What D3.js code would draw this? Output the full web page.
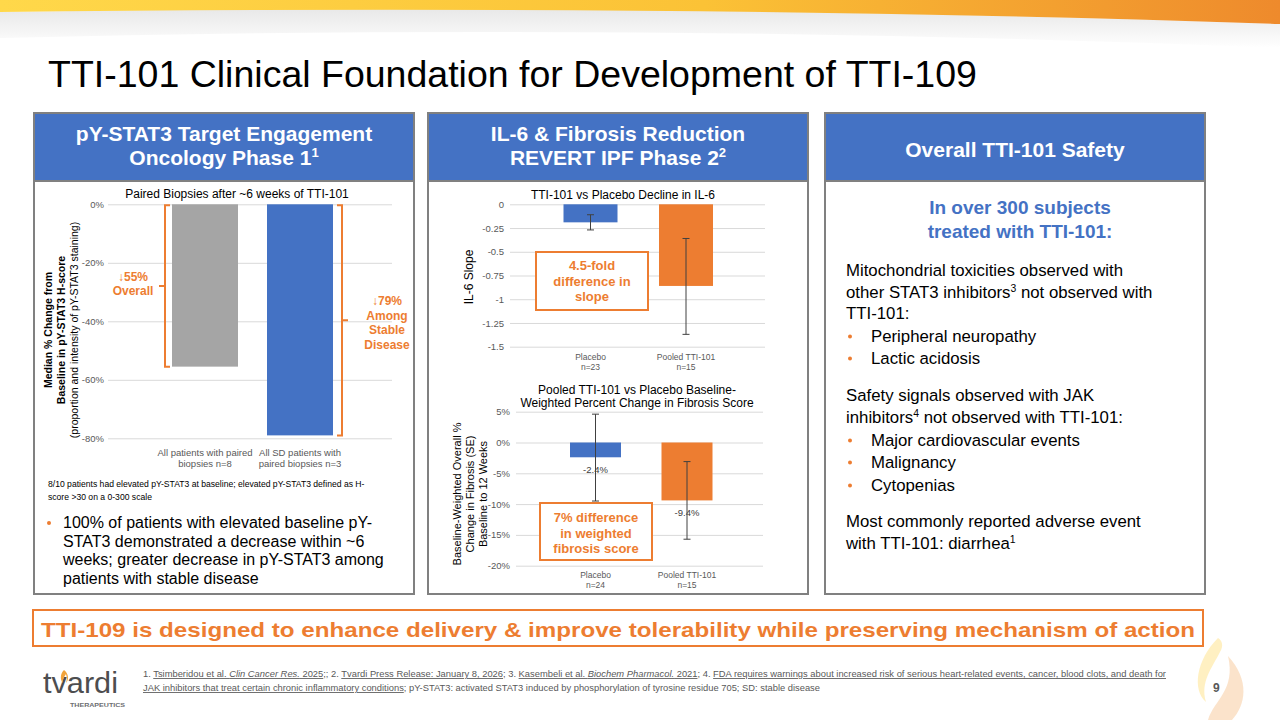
<!DOCTYPE html>
<html>
<head>
<meta charset="utf-8">
<script src="https://cdn.jsdelivr.net/npm/d3@7"></script>
<style>
  body { margin: 0; background: #fff; }
  svg { display: block; font-family: "Liberation Sans", Arial, sans-serif; }
  .tick text { fill: #595959; }
</style>
</head>
<body>
<div id="slide"></div>
<script>
// ---------- data ----------
const biopsyCats = ["All patients with paired|biopsies n=8", "All SD patients with|paired biopsies n=3"];
const biopsyChange = [-55.5, -79];
const biopsyTicks = [0, -20, -40, -60, -80];

const il6Cats = ["Placebo|n=23", "Pooled TTI-101|n=15"];
const il6Slope = [-0.19, -0.86];
const il6ErrLow = [-0.27, -1.37];
const il6ErrHigh = [-0.11, -0.36];
const il6Ticks = [0, -0.25, -0.5, -0.75, -1, -1.25, -1.5];

const fibCats = ["Placebo|n=24", "Pooled TTI-101|n=15"];
const fibChange = [-2.4, -9.4];
const fibErrLow = [-9.5, -15.7];
const fibErrHigh = [4.6, -3.1];
const fibTicks = [5, 0, -5, -10, -15, -20];

const headers = [
  ["pY-STAT3 Target Engagement", "Oncology Phase 1^1"],
  ["IL-6 & Fibrosis Reduction", "REVERT IPF Phase 2^2"],
  ["Overall TTI-101 Safety"]
];

const BLUE = "#4472C4", ORANGE = "#ED7D31", GREY_BAR = "#A5A5A5", GRID = "#D9D9D9";

const svg = d3.select("#slide").append("svg")
    .attr("width", 1280)
    .attr("height", 720);

const defs = svg.append("defs");
const grad = defs.append("linearGradient").attr("id", "swoosh");
grad.append("stop").attr("offset", "0%").attr("stop-color", "#FFD84A");
grad.append("stop").attr("offset", "55%").attr("stop-color", "#FBC236");
grad.append("stop").attr("offset", "100%").attr("stop-color", "#EE8A2C");
const shade = defs.append("linearGradient").attr("id", "shade")
    .attr("x1", 0).attr("y1", 0).attr("x2", 0).attr("y2", 1);
shade.append("stop").attr("offset", "0%").attr("stop-color", "#E8E8E8");
shade.append("stop").attr("offset", "100%").attr("stop-color", "#FFFFFF");

// top swoosh
svg.append("path")
    .attr("d", "M0,12 Q640,2 1280,24 V48 Q640,22 0,38 Z")
    .attr("fill", "url(#shade)");
svg.append("path")
    .attr("d", "M0,0 H1280 V24 Q700,4 0,12 Z")
    .attr("fill", "url(#swoosh)");

// title
svg.append("text")
    .attr("x", 48).attr("y", 87)
    .attr("font-size", 37.5)
    .attr("fill", "#000")
    .text("TTI-101 Clinical Foundation for Development of TTI-109");

// text helper: "^n" means superscript n
function richText(sel, str, fs) {
  const parts = str.split(/(\^\d)/).filter(p => p.length);
  const shift = fs * 0.38;
  let raised = false;
  parts.forEach(p => {
    if (p.startsWith("^")) {
      sel.append("tspan").attr("dy", -shift).attr("font-size", fs * 0.62).text(p.slice(1));
      raised = true;
    } else {
      const sp = sel.append("tspan").text(p);
      if (raised) { sp.attr("dy", shift); raised = false; }
    }
  });
}

// ---------- panels ----------
const panelX = [34, 428, 825], panelW = 380, panelTop = 113, panelBottom = 594, headerH = 68;

panelX.forEach((px, i) => {
  svg.append("rect")
      .attr("x", px).attr("y", panelTop)
      .attr("width", panelW).attr("height", panelBottom - panelTop)
      .attr("fill", "#fff")
      .attr("stroke", "#808080")
      .attr("stroke-width", 2);
  svg.append("rect")
      .attr("x", px).attr("y", panelTop)
      .attr("width", panelW).attr("height", headerH)
      .attr("fill", BLUE)
      .attr("stroke", "#808080")
      .attr("stroke-width", 2);
  const lines = headers[i];
  const ys = lines.length === 2 ? [141, 165] : [157];
  lines.forEach((ln, j) => {
    const t = svg.append("text")
        .attr("x", px + panelW / 2).attr("y", ys[j])
        .attr("text-anchor", "middle")
        .attr("font-size", 21)
        .attr("font-weight", "bold")
        .attr("fill", "#fff");
    richText(t, ln, 21);
  });
});

function multiLine(g, x, y, lines, lh, attrs) {
  const t = g.append("text").attr("x", x).attr("y", y);
  Object.entries(attrs).forEach(([k, v]) => t.attr(k, v));
  lines.forEach((ln, i) => {
    t.append("tspan").attr("x", x).attr("dy", i === 0 ? 0 : lh).text(ln);
  });
  return t;
}

function catLabels(g, x, cats, y0, size) {
  cats.forEach(c => {
    multiLine(g, x(c) + x.bandwidth() / 2, y0, c.split("|"), size + 1,
      {"text-anchor": "middle", "font-size": size, "fill": "#595959"});
  });
}

function bandFor(cats, c1, c2, bw) {
  const step = c2 - c1;
  const p = 1 - bw / step;
  return d3.scaleBand().domain(cats)
      .range([c1 - step / 2, c2 + step / 2])
      .paddingInner(p).paddingOuter(p / 2);
}

function gridAxis(g, y, ticks, left, right, pad, fmt, size) {
  const ax = g.append("g")
      .attr("transform", "translate(" + left + ",0)")
      .call(d3.axisLeft(y).tickValues(ticks).tickSize(-(right - left)).tickPadding(pad).tickFormat(fmt));
  ax.select(".domain").remove();
  ax.selectAll(".tick line").attr("stroke", GRID);
  ax.selectAll(".tick text").attr("font-size", size).attr("font-family", "Liberation Sans, Arial, sans-serif");
  return ax;
}

function errorBars(g, x, y, cats, lo, hi) {
  cats.forEach((c, i) => {
    const cx = x(c) + x.bandwidth() / 2;
    g.append("line").attr("x1", cx).attr("x2", cx)
        .attr("y1", y(hi[i])).attr("y2", y(lo[i]))
        .attr("stroke", "#404040").attr("stroke-width", 1);
    [lo[i], hi[i]].forEach(v => {
      g.append("line").attr("x1", cx - 3.5).attr("x2", cx + 3.5)
          .attr("y1", y(v)).attr("y2", y(v))
          .attr("stroke", "#404040").attr("stroke-width", 1);
    });
  });
}

// ---------- left chart: biopsies ----------
const gL = svg.append("g");
gL.append("text")
    .attr("x", 237).attr("y", 198)
    .attr("text-anchor", "middle").attr("font-size", 12).attr("fill", "#000")
    .text("Paired Biopsies after ~6 weeks of TTI-101");

const yL = d3.scaleLinear().domain([0, -80]).range([204.3, 438.3]);
const xL = bandFor(biopsyCats, 205, 300, 66);
gridAxis(gL, yL, biopsyTicks, 108, 392, 4, d => d + "%", 9.5);

gL.selectAll(".bar")
  .data(biopsyCats)
  .enter().append("rect")
    .attr("x", d => xL(d))
    .attr("width", xL.bandwidth())
    .attr("y", yL(0))
    .attr("height", (d, i) => yL(biopsyChange[i]) - yL(0))
    .attr("fill", (d, i) => i === 0 ? GREY_BAR : BLUE);

catLabels(gL, xL, biopsyCats, 456, 9.5);

// y-axis title
const yTitleL = gL.append("text")
    .attr("transform", "translate(0,330) rotate(-90)")
    .attr("text-anchor", "middle").attr("font-size", 10.5).attr("fill", "#000");
yTitleL.append("tspan").attr("x", 0).attr("y", 52).attr("font-weight", "bold").text("Median % Change from");
yTitleL.append("tspan").attr("x", 0).attr("y", 65).attr("font-weight", "bold").text("Baseline in pY-STAT3 H-score");
yTitleL.append("tspan").attr("x", 0).attr("y", 78).text("(proportion and intensity of pY-STAT3 staining)");

// brackets
function bracket(g, x, y1, y2, dir) {
  const mid = (y1 + y2) / 2;
  g.append("path")
      .attr("d", `M${x + dir * 5},${y1} H${x} V${y2} H${x + dir * 5} M${x},${mid} H${x - dir * 6}`)
      .attr("fill", "none").attr("stroke", ORANGE).attr("stroke-width", 2);
}
bracket(gL, 165, yL(0) + 1, yL(biopsyChange[0]), 1);
bracket(gL, 342, yL(0) + 1, yL(biopsyChange[1]), -1);

multiLine(gL, 133, 281, ["\u219355%", "Overall"], 14,
  {"text-anchor": "middle", "font-size": 12, "font-weight": "bold", "fill": ORANGE});
multiLine(gL, 387, 305, ["\u219379%", "Among", "Stable", "Disease"], 14.5,
  {"text-anchor": "middle", "font-size": 12, "font-weight": "bold", "fill": ORANGE});

multiLine(gL, 48, 487, ["8/10 patients had elevated pY-STAT3 at baseline; elevated pY-STAT3 defined as H-",
  "score >30 on a 0-300 scale"], 12.5, {"font-size": 8.6, "fill": "#000"});

gL.append("circle").attr("cx", 49).attr("cy", 523).attr("r", 2).attr("fill", ORANGE);
multiLine(gL, 63, 528, ["100% of patients with elevated baseline pY-",
  "STAT3 demonstrated a decrease within ~6",
  "weeks; greater decrease in pY-STAT3 among",
  "patients with stable disease"], 18.5, {"font-size": 16, "fill": "#000"});

// ---------- middle top: IL-6 ----------
const gM = svg.append("g");
gM.append("text")
    .attr("x", 623).attr("y", 199)
    .attr("text-anchor", "middle").attr("font-size", 12).attr("fill", "#000")
    .text("TTI-101 vs Placebo Decline in IL-6");

const yM = d3.scaleLinear().domain([0, -1.5]).range([204.3, 346.7]);
const xM = bandFor(il6Cats, 590.5, 686, 54);
gridAxis(gM, yM, il6Ticks, 510, 765, 6, d => String(d), 9.5);

gM.selectAll(".bar")
  .data(il6Cats)
  .enter().append("rect")
    .attr("x", d => xM(d))
    .attr("width", xM.bandwidth())
    .attr("y", yM(0))
    .attr("height", (d, i) => yM(il6Slope[i]) - yM(0))
    .attr("fill", (d, i) => i === 0 ? BLUE : ORANGE);
errorBars(gM, xM, yM, il6Cats, il6ErrLow, il6ErrHigh);
catLabels(gM, xM, il6Cats, 360, 8.5);

gM.append("text")
    .attr("transform", "translate(473,277) rotate(-90)")
    .attr("text-anchor", "middle").attr("font-size", 12).attr("fill", "#000")
    .text("IL-6 Slope");

gM.append("rect").attr("x", 536).attr("y", 252).attr("width", 112).attr("height", 58)
    .attr("fill", "#fff").attr("stroke", ORANGE).attr("stroke-width", 2);
multiLine(gM, 592, 270, ["4.5-fold", "difference in", "slope"], 15.5,
  {"text-anchor": "middle", "font-size": 13, "font-weight": "bold", "fill": ORANGE});

// ---------- middle bottom: fibrosis ----------
const gF = svg.append("g");
multiLine(gF, 637, 394, ["Pooled TTI-101 vs Placebo Baseline-", "Weighted Percent Change in Fibrosis Score"], 12.5,
  {"text-anchor": "middle", "font-size": 12, "fill": "#000"});

const yF = d3.scaleLinear().domain([5, -20]).range([411.7, 565.7]);
const xF = bandFor(fibCats, 595.5, 687, 51);
gridAxis(gF, yF, fibTicks, 516, 763, 6, d => d + "%", 9.5);

gF.selectAll(".bar")
  .data(fibCats)
  .enter().append("rect")
    .attr("x", d => xF(d))
    .attr("width", xF.bandwidth())
    .attr("y", yF(0))
    .attr("height", (d, i) => yF(fibChange[i]) - yF(0))
    .attr("fill", (d, i) => i === 0 ? BLUE : ORANGE);
errorBars(gF, xF, yF, fibCats, fibErrLow, fibErrHigh);

fibCats.forEach((c, i) => {
  gF.append("text")
      .attr("x", xF(c) + xF.bandwidth() / 2)
      .attr("y", yF(fibChange[i]) + 15.5)
      .attr("text-anchor", "middle").attr("font-size", 9.5).attr("fill", "#404040")
      .text(fibChange[i].toFixed(1) + "%");
});
catLabels(gF, xF, fibCats, 578, 8.5);

const yTitleF = gF.append("text")
    .attr("transform", "translate(0,494) rotate(-90)")
    .attr("text-anchor", "middle").attr("font-size", 11).attr("fill", "#000");
["Baseline-Weighted Overall %", "Change in Fibrosis (SE)", "Baseline to 12 Weeks"].forEach((ln, i) => {
  yTitleF.append("tspan").attr("x", 0).attr("y", 461 + i * 13).text(ln);
});

gF.append("rect").attr("x", 540).attr("y", 503).attr("width", 112).attr("height", 57)
    .attr("fill", "#fff").attr("stroke", ORANGE).attr("stroke-width", 2);
multiLine(gF, 596, 522, ["7% difference", "in weighted", "fibrosis score"], 15.5,
  {"text-anchor": "middle", "font-size": 13, "font-weight": "bold", "fill": ORANGE});

// ---------- right panel: safety ----------
const gR = svg.append("g");
multiLine(gR, 1020, 214, ["In over 300 subjects", "treated with TTI-101:"], 24,
  {"text-anchor": "middle", "font-size": 19, "font-weight": "bold", "fill": BLUE});

const safetyLines = [
  {t: "Mitochondrial toxicities observed with", y: 276},
  {t: "other STAT3 inhibitors^3 not observed with", y: 298},
  {t: "TTI-101:", y: 319},
  {t: "Peripheral neuropathy", y: 342, b: true},
  {t: "Lactic acidosis", y: 364, b: true},
  {t: "Safety signals observed with JAK", y: 401},
  {t: "inhibitors^4 not observed with TTI-101:", y: 423},
  {t: "Major cardiovascular events", y: 446, b: true},
  {t: "Malignancy", y: 468, b: true},
  {t: "Cytopenias", y: 491, b: true},
  {t: "Most commonly reported adverse event", y: 527},
  {t: "with TTI-101: diarrhea^1", y: 549}
];
safetyLines.forEach(l => {
  if (l.b) {
    gR.append("circle").attr("cx", 850).attr("cy", l.y - 5.5).attr("r", 2).attr("fill", ORANGE);
  }
  const t = gR.append("text")
      .attr("x", l.b ? 871 : 846).attr("y", l.y)
      .attr("font-size", 16.8).attr("fill", "#000");
  richText(t, l.t, 16.8);
});

// ---------- bottom banner ----------
svg.append("rect")
    .attr("x", 33).attr("y", 610).attr("width", 1170).attr("height", 36)
    .attr("fill", "#fff").attr("stroke", ORANGE).attr("stroke-width", 2);
svg.append("text")
    .attr("x", 618).attr("y", 637)
    .attr("text-anchor", "middle").attr("font-size", 21).attr("font-weight", "bold")
    .attr("fill", ORANGE)
    .attr("textLength", 1154).attr("lengthAdjust", "spacingAndGlyphs")
    .text("TTI-109 is designed to enhance delivery & improve tolerability while preserving mechanism of action");

// ---------- footnotes ----------
const foot1 = [
  {t: "1. "},
  {t: "Tsimberidou et al. ", u: true},
  {t: "Clin Cancer Res.", u: true, i: true},
  {t: " 2025", u: true},
  {t: ";; 2. "},
  {t: "Tvardi Press Release: January 8, 2026", u: true},
  {t: "; 3. "},
  {t: "Kasembeli et al. ", u: true},
  {t: "Biochem Pharmacol.", u: true, i: true},
  {t: " 2021", u: true},
  {t: "; 4. "},
  {t: "FDA requires warnings about increased risk of serious heart-related events, cancer, blood clots, and death for", u: true}
];
const foot2 = [
  {t: "JAK inhibitors that treat certain chronic inflammatory conditions", u: true},
  {t: "; pY-STAT3: activated STAT3 induced by phosphorylation of tyrosine residue 705; SD: stable disease"}
];
[[foot1, 677, 1023], [foot2, 691, 677]].forEach(([segs, y, len]) => {
  const t = svg.append("text")
      .attr("x", 143).attr("y", y)
      .attr("font-size", 8.6).attr("fill", "#595959")
      .attr("textLength", len).attr("lengthAdjust", "spacingAndGlyphs");
  segs.forEach(s => {
    const sp = t.append("tspan").text(s.t);
    if (s.u) sp.attr("text-decoration", "underline");
    if (s.i) sp.attr("font-style", "italic");
  });
});

// ---------- logo, page number, flame ----------
svg.append("text")
    .attr("x", 43).attr("y", 693)
    .attr("font-size", 29).attr("fill", "#4D4D4F")
    .attr("textLength", 75).attr("lengthAdjust", "spacingAndGlyphs")
    .text("tvardi");
svg.append("path")
    .attr("d", "M64,670 C60,674 60,680 63,683 C62,679 65,676 66,674 C67,677 67,680 66,683 C69,680 69,674 64,670 Z")
    .attr("fill", "#F2A33A");
svg.append("text")
    .attr("x", 70).attr("y", 707)
    .attr("font-size", 5).attr("font-weight", "bold").attr("fill", "#6D6E71")
    .attr("textLength", 55).attr("lengthAdjust", "spacingAndGlyphs")
    .text("THERAPEUTICS");

svg.append("path")
    .attr("d", "M1218,638 C1196,660 1192,690 1206,702 C1200,682 1212,668 1220,652 C1224,646 1222,640 1218,638 Z")
    .attr("fill", "#FFE9A8").attr("opacity", 0.7);
svg.append("path")
    .attr("d", "M1228,656 C1250,680 1246,705 1232,720 L1208,720 C1214,700 1236,690 1228,656 Z")
    .attr("fill", "#FAD7B5").attr("opacity", 0.7);

svg.append("text")
    .attr("x", 1213).attr("y", 692)
    .attr("font-size", 12).attr("font-weight", "bold").attr("fill", "#595959")
    .text("9");
</script>
</body>
</html>
